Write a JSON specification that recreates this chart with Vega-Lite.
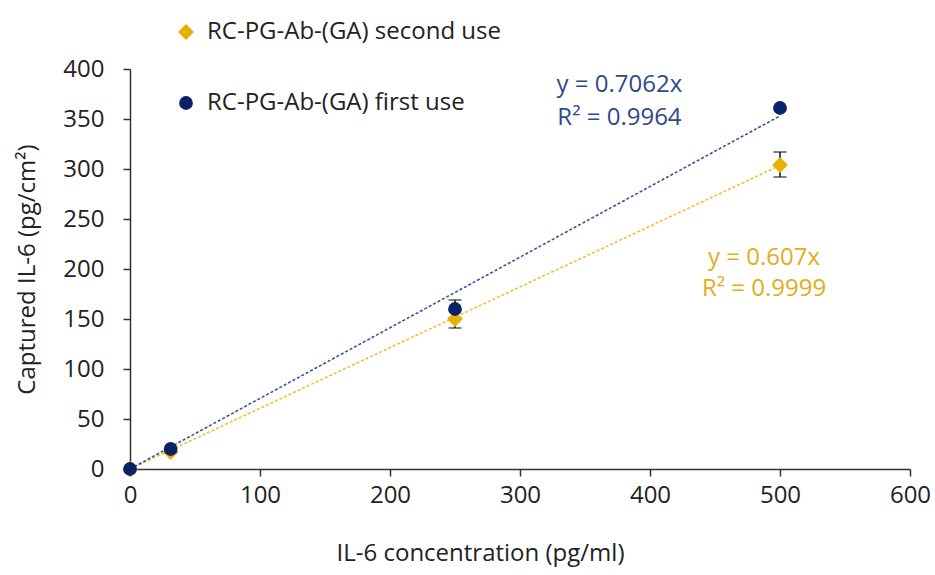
{
  "$schema": "https://vega.github.io/schema/vega-lite/v6.json",
  "width": 780,
  "height": 400,
  "autosize": {"type": "none"},
  "padding": {"left": 130, "top": 69, "right": 25, "bottom": 106},
  "background": "white",
  "config": {
    "view": {"stroke": null},
    "font": "Open Sans",
    "axis": {
      "grid": false,
      "domainColor": "#333333",
      "tickColor": "#333333",
      "domainWidth": 1.5,
      "tickWidth": 1.5,
      "tickSize": 7,
      "labelFlush": false,
      "labelFont": "Open Sans",
      "labelFontSize": 24,
      "labelColor": "#222222",
      "titleFont": "Open Sans",
      "titleFontSize": 24,
      "titleFontWeight": "normal",
      "titleColor": "#222222"
    }
  },
  "datasets": {
    "points": [
      {"series": "RC-PG-Ab-(GA) second use", "conc": 0, "il6": 0, "lo": 0, "hi": 0},
      {"series": "RC-PG-Ab-(GA) second use", "conc": 31.25, "il6": 17, "lo": 16, "hi": 18},
      {"series": "RC-PG-Ab-(GA) second use", "conc": 250, "il6": 150, "lo": 141, "hi": 159},
      {"series": "RC-PG-Ab-(GA) second use", "conc": 500, "il6": 304, "lo": 292, "hi": 317},
      {"series": "RC-PG-Ab-(GA) first use", "conc": 0, "il6": 0, "lo": 0, "hi": 0},
      {"series": "RC-PG-Ab-(GA) first use", "conc": 31.25, "il6": 20, "lo": 19, "hi": 21},
      {"series": "RC-PG-Ab-(GA) first use", "conc": 250, "il6": 160, "lo": 151, "hi": 169},
      {"series": "RC-PG-Ab-(GA) first use", "conc": 500, "il6": 361, "lo": 360, "hi": 362}
    ],
    "trend": [
      {"series": "RC-PG-Ab-(GA) second use", "conc": 0, "fit": 0},
      {"series": "RC-PG-Ab-(GA) second use", "conc": 500, "fit": 303.5},
      {"series": "RC-PG-Ab-(GA) first use", "conc": 0, "fit": 0},
      {"series": "RC-PG-Ab-(GA) first use", "conc": 500, "fit": 353.1}
    ],
    "labels": [
      {"series": "RC-PG-Ab-(GA) first use", "conc": 376.5, "il6": 384, "label": "y = 0.7062x"},
      {"series": "RC-PG-Ab-(GA) first use", "conc": 376.5, "il6": 351, "label": "R² = 0.9964"},
      {"series": "RC-PG-Ab-(GA) second use", "conc": 487.7, "il6": 211, "label": "y = 0.607x"},
      {"series": "RC-PG-Ab-(GA) second use", "conc": 487.7, "il6": 180, "label": "R² = 0.9999"}
    ]
  },
  "layer": [
    {
      "data": {"name": "trend"},
      "transform": [{"filter": "datum.series === 'RC-PG-Ab-(GA) second use'"}],
      "mark": {"type": "line", "color": "#F0C030", "strokeWidth": 1.6, "strokeDash": [3, 2]},
      "encoding": {
        "x": {"field": "conc", "type": "quantitative"},
        "y": {"field": "fit", "type": "quantitative"}
      }
    },
    {
      "data": {"name": "trend"},
      "transform": [{"filter": "datum.series === 'RC-PG-Ab-(GA) first use'"}],
      "mark": {"type": "line", "color": "#3A5598", "strokeWidth": 1.6, "strokeDash": [3, 2]},
      "encoding": {
        "x": {"field": "conc", "type": "quantitative"},
        "y": {"field": "fit", "type": "quantitative"}
      }
    },
    {
      "data": {"name": "points"},
      "mark": {"type": "errorbar", "color": "#111111", "thickness": 1.5, "ticks": {"size": 13, "thickness": 1.5, "color": "#111111"}},
      "encoding": {
        "x": {"field": "conc", "type": "quantitative", "title": "IL-6 concentration (pg/ml)"},
        "y": {"field": "lo", "type": "quantitative", "title": "Captured IL-6 (pg/cm²)"},
        "y2": {"field": "hi"}
      }
    },
    {
      "data": {"name": "points"},
      "mark": {"type": "point", "filled": true, "opacity": 1},
      "encoding": {
        "x": {
          "field": "conc", "type": "quantitative",
          "scale": {"domain": [0, 600], "nice": false},
          "title": "IL-6 concentration (pg/ml)",
          "axis": {"values": [0, 100, 200, 300, 400, 500, 600], "labelPadding": 7, "titleX": 350, "titleY": 84, "titleBaseline": "middle"}
        },
        "y": {
          "field": "il6", "type": "quantitative",
          "scale": {"domain": [0, 400], "nice": false},
          "title": "Captured IL-6 (pg/cm²)",
          "axis": {"values": [0, 50, 100, 150, 200, 250, 300, 350, 400], "labelPadding": 19, "titleX": -103, "titleY": 200, "titleAngle": -90, "titleAlign": "center", "titleBaseline": "middle"}
        },
        "size": {
          "field": "series", "type": "nominal",
          "scale": {"domain": ["RC-PG-Ab-(GA) second use", "RC-PG-Ab-(GA) first use"], "range": [250, 190]},
          "legend": null
        },
        "color": {
          "field": "series", "type": "nominal",
          "scale": {"domain": ["RC-PG-Ab-(GA) second use", "RC-PG-Ab-(GA) first use"], "range": ["#E8B000", "#0A2366"]},
          "legend": {
            "title": null, "orient": "none", "legendX": 44, "legendY": -49,
            "labelFont": "Open Sans", "labelFontSize": 24, "labelColor": "#222222", "labelLimit": 0,
            "symbolSize": 150, "rowPadding": 47, "labelOffset": 9
          }
        },
        "shape": {
          "field": "series", "type": "nominal",
          "scale": {"domain": ["RC-PG-Ab-(GA) second use", "RC-PG-Ab-(GA) first use"], "range": ["diamond", "circle"]},
          "legend": {
            "title": null, "orient": "none", "legendX": 44, "legendY": -49,
            "labelFont": "Open Sans", "labelFontSize": 24, "labelColor": "#222222", "labelLimit": 0,
            "symbolSize": 150, "rowPadding": 47, "labelOffset": 9
          }
        }
      }
    },
    {
      "data": {"name": "labels"},
      "transform": [{"filter": "datum.series === 'RC-PG-Ab-(GA) first use'"}],
      "mark": {"type": "text", "color": "#2E4A8A", "fontSize": 24, "font": "Open Sans", "align": "center", "baseline": "middle"},
      "encoding": {
        "x": {"field": "conc", "type": "quantitative"},
        "y": {"field": "il6", "type": "quantitative"},
        "text": {"field": "label"}
      }
    },
    {
      "data": {"name": "labels"},
      "transform": [{"filter": "datum.series === 'RC-PG-Ab-(GA) second use'"}],
      "mark": {"type": "text", "color": "#E0AE1A", "fontSize": 24, "font": "Open Sans", "align": "center", "baseline": "middle"},
      "encoding": {
        "x": {"field": "conc", "type": "quantitative"},
        "y": {"field": "il6", "type": "quantitative"},
        "text": {"field": "label"}
      }
    }
  ]
}
